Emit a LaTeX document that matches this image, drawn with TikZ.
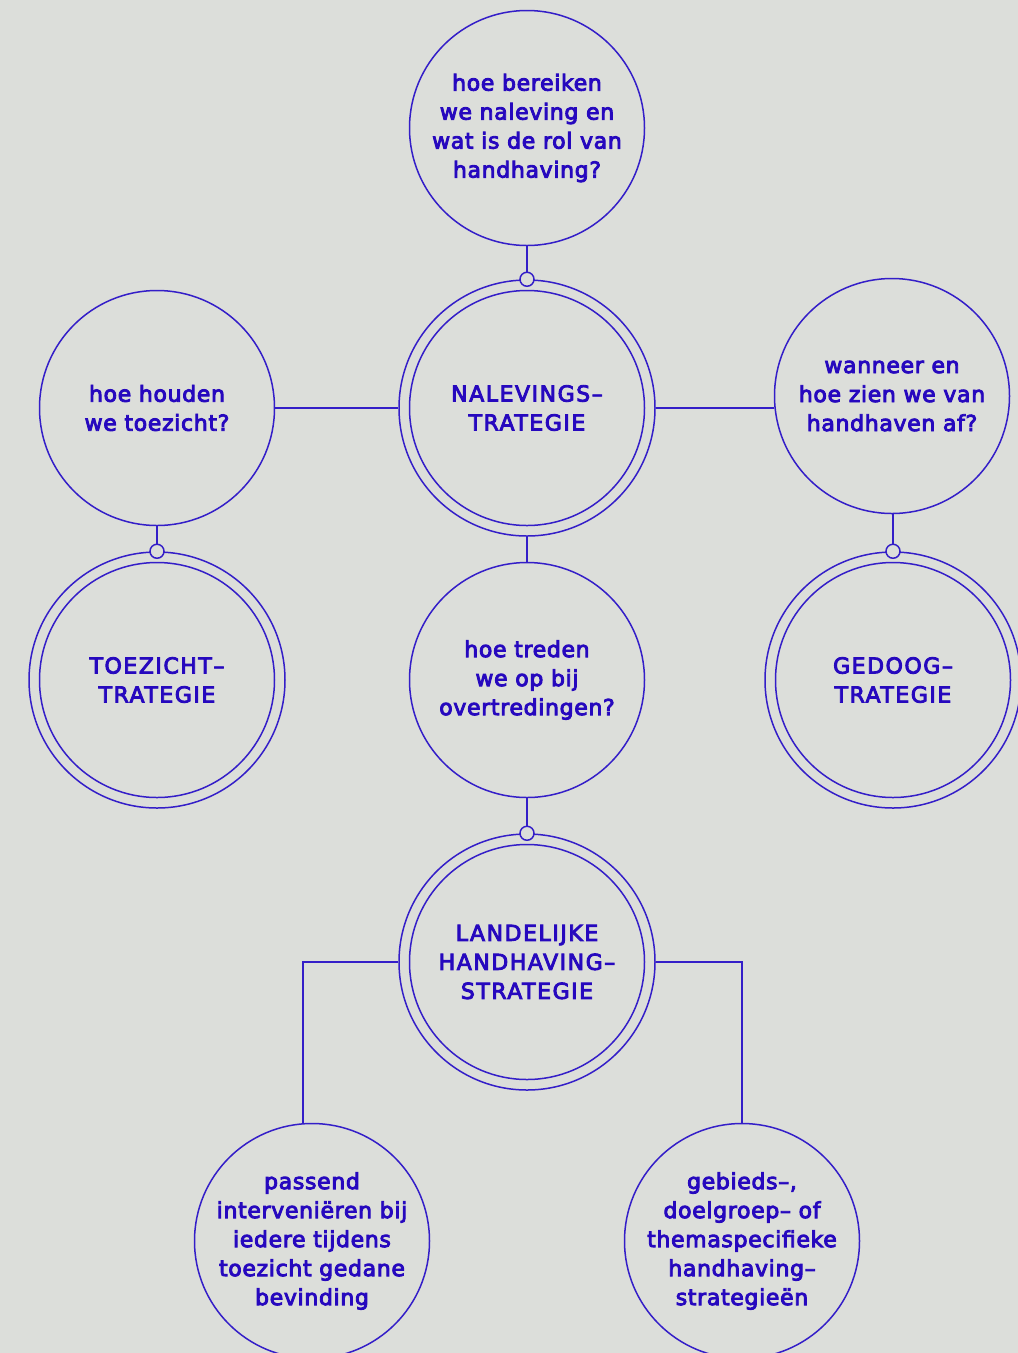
\documentclass[tikz,border=0pt]{standalone}
\usepackage{fontspec}
\newfontfamily\lab{DejaVu Sans}[FakeBold=4,LetterSpace=3]
\newfontfamily\labc{DejaVu Sans}[FakeBold=4,LetterSpace=7]
\definecolor{bg}{RGB}{220,222,218}
\definecolor{ink}{RGB}{38,8,190}
\definecolor{ln}{RGB}{52,30,200}
\begin{document}
\begin{tikzpicture}[x=1pt,y=-1pt,
  q/.style={circle,draw=ln,line width=1.5pt,minimum size=235pt,inner sep=0pt,
    text=ink,align=center,font=\lab\fontsize{22}{29}\selectfont},
  qc/.style={q,font=\labc\fontsize{22}{29}\selectfont},
  ring/.style={circle,draw=ln,line width=1.5pt,minimum size=256pt,inner sep=0pt},
  dot/.style={circle,draw=ln,fill=bg,line width=1.5pt,minimum size=14pt,inner sep=0pt},
  conn/.style={draw=ln,line width=1.5pt}]
\fill[bg] (0,0) rectangle (1018,1353);
\useasboundingbox (0,0) rectangle (1018,1353);

% top question
\node[q] (top) at (527,128) {hoe bereiken\\we naleving en\\wat is de rol van\\handhaving?};
% naleving strategy
\node[ring] (nal) at (527,408) {};
\node[qc] (nali) at (527,408) {NALEVINGS–\\TRATEGIE};
% left question
\node[q] (left) at (157,408) {hoe houden\\we toezicht?};
% right question
\node[q] (right) at (892,396) {wanneer en\\hoe zien we van\\handhaven af?};
% toezicht strategy
\node[ring] (toe) at (157,680) {};
\node[qc] (toei) at (157,680) {TOEZICHT–\\TRATEGIE};
% gedoog strategy
\node[ring] (ged) at (893,680) {};
\node[qc] (gedi) at (893,680) {GEDOOG–\\TRATEGIE};
% middle question
\node[q] (mid) at (527,680) {hoe treden\\we op bij\\overtredingen?};
% landelijke strategy
\node[ring] (land) at (527,962) {};
\node[qc] (landi) at (527,962) {LANDELIJKE\\HANDHAVING–\\STRATEGIE};
% bottom circles
\node[q] (pas) at (312,1241) {passend\\interveniëren bij\\iedere tijdens\\toezicht gedane\\bevinding};
\node[q] (geb) at (742,1241) {gebieds–,\\doelgroep– of\\themaspecifieke\\handhaving–\\strategieën};

% connectors
\draw[conn] (top.south) -- (nal.north);
\draw[conn] (left.east) -- (nal.west);
\draw[conn] (nal.east) -- (right.west |- nal.east);
\draw[conn] (left.south) -- (toe.north);
\draw[conn] (right.south -| ged.north) -- (ged.north);
\draw[conn] (nal.south) -- (mid.north);
\draw[conn] (mid.south) -- (land.north);
\draw[conn] (land.west) -| ([xshift=-9]pas.north);
\draw[conn] (land.east) -| (geb.north);

% small joint circles
\node[dot] (d1) at (nal.north) {};
\node[dot] (d2) at (toe.north) {};
\node[dot] (d3) at (ged.north) {};
\node[dot] (d4) at (land.north) {};
\end{tikzpicture}
\end{document}
